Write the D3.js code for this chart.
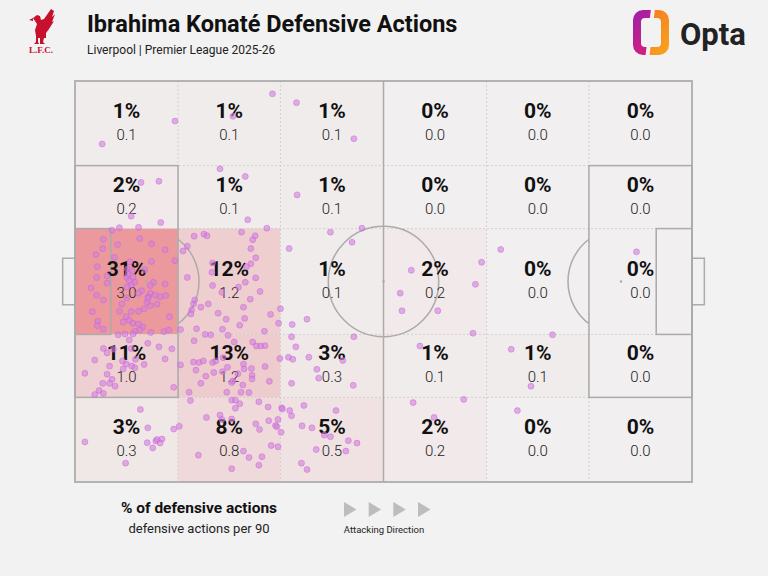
<!DOCTYPE html>
<html lang="en">
  <head>
    <meta charset="UTF-8" />
    <title>Ibrahima Konaté Defensive Actions</title>
    <script src="https://d3js.org/d3.v7.min.js"></script>
    <style>
      body {
        margin: 0;
        background: #f2f2f2;
      }
      svg {
        display: block;
        font-family: Roboto, "Noto Sans", sans-serif;
      }
    </style>
  </head>
  <body>
    <script>
      // zone edges in Opta pitch units (0-100 both ways, y measured from top)
      const xEdges = [0, 16.7, 33.3, 50, 66.7, 83.3, 100];
      const yEdges = [0, 21.1, 36.8, 63.2, 78.9, 100];

      // share of defensive actions per zone (%)
      const pctGrid = [
        [1, 1, 1, 0, 0, 0],
        [2, 1, 1, 0, 0, 0],
        [31, 12, 1, 2, 0, 0],
        [11, 13, 3, 1, 1, 0],
        [3, 8, 5, 2, 0, 0],
      ];

      // defensive actions per 90 per zone
      const p90Grid = [
        [0.1, 0.1, 0.1, 0.0, 0.0, 0.0],
        [0.2, 0.1, 0.1, 0.0, 0.0, 0.0],
        [3.0, 1.2, 0.1, 0.2, 0.0, 0.0],
        [1.0, 1.2, 0.3, 0.1, 0.1, 0.0],
        [0.3, 0.8, 0.5, 0.2, 0.0, 0.0],
      ];

      // individual actions [x, y]
      const actions = [
        [4.4, 15.7], [16.2, 10.0], [32.0, 3.2], [25.6, 8.8], [35.9, 5.4], [45.2, 14.4],
        [23.5, 21.9], [27.6, 23.8], [36.0, 28.4], [10.7, 25.3], [13.6, 25.0], [9.1, 33.7],
        [13.9, 35.3], [28.0, 34.6], [7.2, 36.6], [10.3, 36.5], [6.0, 37.2],
        [31.1, 36.7], [27.0, 37.7], [20.9, 38.2], [19.3, 38.7], [21.4, 38.6], [29.2, 38.6],
        [28.8, 39.6], [18.2, 41.2], [17.5, 42.4], [28.5, 41.8], [29.3, 44.1], [28.5, 45.6],
        [27.8, 46.3], [22.3, 45.4], [22.2, 47.7], [18.2, 49.0], [29.3, 49.1], [27.6, 50.2],
        [22.3, 51.0], [26.5, 51.4], [23.8, 52.7], [30.0, 52.5], [19.2, 55.6], [19.4, 54.6],
        [21.6, 55.6], [20.4, 56.4], [28.4, 54.4], [18.9, 57.1], [18.8, 58.1], [23.2, 57.9],
        [27.3, 56.4], [33.3, 56.8], [31.7, 58.2], [27.5, 59.2], [33.0, 60.4], [24.5, 59.4],
        [26.7, 60.9], [17.1, 62.0], [19.7, 61.8], [23.9, 61.9], [30.7, 62.4], [22.0, 63.3],
        [24.8, 63.4],
        [4.6, 39.5], [4.5, 41.8], [6.9, 40.8], [10.5, 39.3], [12.4, 40.6], [14.6, 42.1],
        [3.4, 43.3], [6.4, 44.0], [16.2, 44.8], [12.4, 45.0], [3.6, 46.3], [8.5, 46.9],
        [9.2, 47.3], [5.2, 48.6], [3.5, 49.0], [8.4, 49.0], [8.6, 48.1], [9.4, 49.0],
        [8.8, 49.8], [9.7, 50.2], [9.1, 50.9], [12.7, 50.2], [12.2, 51.0], [5.2, 50.4],
        [14.6, 50.6], [2.6, 51.6], [10.8, 52.3], [10.3, 52.9], [12.2, 52.9], [11.9, 53.8],
        [13.0, 53.4], [14.7, 53.5], [3.5, 53.4], [4.6, 54.6], [8.4, 54.1], [11.7, 55.2],
        [13.3, 55.6], [7.6, 55.6], [7.2, 57.4], [9.1, 57.5], [10.3, 57.4], [11.2, 56.8],
        [12.2, 56.0], [2.8, 57.5], [8.3, 58.8], [15.3, 58.8], [3.7, 59.9], [3.6, 61.0],
        [8.8, 59.7], [9.4, 60.4], [7.8, 60.1], [10.3, 60.6], [11.0, 61.3], [10.5, 62.1],
        [9.7, 62.4], [4.6, 61.9], [8.1, 63.1], [12.3, 62.7], [14.4, 62.5], [15.2, 62.1],
        [13.8, 53.8], [11.8, 54.2], [8.9, 45.1], [8.4, 51.4], [11.3, 47.1],
        [7.0, 63.3], [9.4, 63.1], [8.8, 64.6], [11.8, 65.4], [13.6, 66.3], [15.7, 66.8],
        [4.6, 66.7], [5.2, 67.8], [6.2, 66.9], [9.1, 66.7], [3.2, 69.6], [7.7, 69.8],
        [8.3, 70.6], [9.8, 69.4], [11.2, 70.7], [9.2, 71.1], [14.6, 69.3], [5.6, 71.1],
        [7.8, 71.8], [9.7, 71.5], [1.6, 72.9], [5.2, 73.1], [6.0, 74.4], [4.5, 75.4],
        [5.6, 75.4], [6.5, 76.1], [3.9, 77.2], [3.2, 78.2], [4.6, 77.9], [16.0, 76.4],
        [19.3, 64.8], [21.1, 63.2], [25.8, 65.1], [28.8, 65.1], [29.4, 66.1], [30.1, 66.1],
        [30.8, 66.0], [19.2, 70.1], [20.1, 70.2], [20.8, 69.8], [22.3, 70.2], [22.8, 69.8],
        [24.0, 69.0], [17.1, 70.8], [19.6, 72.1], [24.7, 71.4], [27.3, 70.6], [27.4, 71.8],
        [28.6, 71.7], [30.8, 71.2], [21.2, 73.6], [22.5, 72.7], [23.9, 72.5], [26.4, 73.0],
        [28.7, 73.4], [28.7, 74.3], [20.4, 75.4], [25.4, 75.2], [25.6, 74.8], [27.2, 75.8],
        [31.5, 74.9], [18.5, 77.6], [24.6, 77.6], [26.9, 77.6], [28.2, 77.7],
        [35.1, 63.8], [35.8, 66.3], [33.2, 69.2], [34.6, 68.9], [35.3, 69.4], [37.9, 68.9],
        [43.4, 69.7], [39.2, 71.9], [39.5, 74.1], [35.1, 75.4], [45.1, 75.9], [45.2, 63.8],
        [41.4, 37.7], [46.5, 36.7], [44.9, 40.2], [34.7, 41.8], [35.2, 60.7], [37.6, 59.4],
        [52.7, 52.9], [53.0, 57.3], [54.5, 47.2], [58.8, 57.3], [65.9, 45.2], [64.9, 50.7],
        [64.5, 62.9], [69.0, 42.0], [91.0, 42.6], [77.4, 63.3], [55.9, 66.1], [70.7, 66.9],
        [73.9, 76.1], [54.8, 80.2], [63.0, 79.4], [58.2, 83.9], [71.7, 82.2],
        [10.6, 81.9], [11.8, 86.5], [16.0, 86.8], [16.9, 86.1], [1.6, 90.0], [13.1, 89.8],
        [13.3, 89.4], [14.1, 89.3], [11.7, 90.2], [13.8, 90.3], [12.6, 91.5], [8.2, 95.3],
        [18.7, 79.7], [25.4, 79.6], [26.0, 79.6], [26.7, 80.5], [26.0, 81.6], [29.8, 80.0],
        [31.3, 81.3], [21.3, 83.9], [23.5, 83.3], [23.8, 84.4], [25.4, 84.3], [29.3, 85.5],
        [29.9, 86.9], [31.4, 84.7], [32.9, 84.4], [32.5, 85.9], [32.7, 86.2], [20.0, 93.3],
        [27.3, 92.3], [28.2, 93.9], [30.3, 93.7], [29.8, 95.8], [25.4, 96.7], [31.8, 90.9],
        [32.9, 91.2],
        [33.5, 81.5], [33.6, 81.8], [34.8, 82.2], [37.1, 80.9], [35.1, 83.5], [42.3, 82.2],
        [36.8, 86.0], [38.4, 86.5], [33.4, 87.6], [40.4, 88.3], [41.4, 88.7], [44.3, 89.7],
        [45.7, 90.3], [39.1, 91.9], [43.9, 92.3], [36.7, 95.3], [37.6, 96.9],
      ];

      const legendTitle = "% of defensive actions";
      const legendSub = "defensive actions per 90";
      const directionLabel = "Attacking Direction";
      const arrows = [0, 1, 2, 3];

      const width = 768;
      const height = 576;

      const svg = d3.select("body").append("svg").attr("width", width).attr("height", height);
      svg.append("rect").attr("width", width).attr("height", height).attr("fill", "#f2f2f2");

      const x = d3.scaleLinear().domain([0, 100]).range([75, 692]);
      const y = d3.scaleLinear().domain([0, 100]).range([81, 482]);

      const color = d3.scaleLinear().domain([0, d3.max(pctGrid.flat())]).range(["#f1efef", "#eb999c"]);

      // zone cells
      const cells = [];
      pctGrid.forEach((row, r) => {
        row.forEach((pct, c) => {
          cells.push({ r, c, pct, p90: p90Grid[r][c] });
        });
      });

      const pitch = svg.append("g");

      pitch
        .selectAll("rect.cell")
        .data(cells)
        .join("rect")
        .attr("class", "cell")
        .attr("x", (d) => x(xEdges[d.c]))
        .attr("y", (d) => y(yEdges[d.r]))
        .attr("width", (d) => x(xEdges[d.c + 1]) - x(xEdges[d.c]))
        .attr("height", (d) => y(yEdges[d.r + 1]) - y(yEdges[d.r]))
        .attr("fill", (d) => color(d.pct));

      // dotted zone grid
      const grid = pitch.append("g").attr("stroke", "#c9c9c9").attr("stroke-width", 0.8).attr("stroke-dasharray", "2,2");
      xEdges.slice(1, -1).forEach((e) => {
        grid.append("line").attr("x1", x(e)).attr("x2", x(e)).attr("y1", y(0)).attr("y2", y(100));
      });
      yEdges.slice(1, -1).forEach((e) => {
        grid.append("line").attr("x1", x(0)).attr("x2", x(100)).attr("y1", y(e)).attr("y2", y(e));
      });

      // pitch markings
      const lines = pitch.append("g").attr("fill", "none").attr("stroke", "#ababab").attr("stroke-width", 1.5);
      const box = (x0, x1, y0, y1) =>
        lines
          .append("rect")
          .attr("x", x(Math.min(x0, x1)))
          .attr("y", y(y0))
          .attr("width", Math.abs(x(x1) - x(x0)))
          .attr("height", y(y1) - y(y0));

      box(0, 100, 0, 100).attr("stroke", "#b3b3b3").attr("stroke-width", 2);
      lines.append("line").attr("x1", x(50)).attr("x2", x(50)).attr("y1", y(0)).attr("y2", y(100));
      const circleR = x(58.95) - x(50);
      lines.append("circle").attr("cx", x(50)).attr("cy", y(50)).attr("r", circleR);
      pitch.append("circle").attr("cx", x(50)).attr("cy", y(50)).attr("r", 1.2).attr("fill", "#ababab");

      [
        { goal: 0, dir: 1 },
        { goal: 100, dir: -1 },
      ].forEach(({ goal, dir }) => {
        box(goal, goal + dir * 16.7, 21.1, 78.9);
        box(goal, goal + dir * 5.8, 36.8, 63.2);
        box(goal - dir * 2, goal, 44.2, 55.8);
        const spotX = x(goal + dir * 11.5);
        pitch.append("circle").attr("cx", spotX).attr("cy", y(50)).attr("r", 1.2).attr("fill", "#ababab");
        const arcR = x(8.6) - x(0);
        const dx = Math.abs(x(goal + dir * 16.7) - spotX);
        const h = Math.sqrt(arcR * arcR - dx * dx);
        const edgeX = x(goal + dir * 16.7);
        lines
          .append("path")
          .attr("d", `M${edgeX},${y(50) - h} A${arcR},${arcR} 0 0 ${dir > 0 ? 1 : 0} ${edgeX},${y(50) + h}`);
      });

      // zone labels
      const labels = pitch
        .selectAll("g.lab")
        .data(cells)
        .join("g")
        .attr("class", "lab")
        .attr("transform", (d) => `translate(${x((xEdges[d.c] + xEdges[d.c + 1]) / 2)},${y((yEdges[d.r] + yEdges[d.r + 1]) / 2)})`)
        .attr("text-anchor", "middle");
      labels
        .append("text")
        .attr("y", -5.5)
        .attr("font-size", 21)
        .attr("font-weight", 700)
        .attr("fill", "#111")
        .text((d) => d.pct + "%");
      labels
        .append("text")
        .attr("y", 16.5)
        .attr("font-size", 15)
        .attr("font-weight", 300)
        .attr("fill", "#222")
        .text((d) => d.p90.toFixed(1));

      // action dots
      pitch
        .selectAll("circle.dot")
        .data(actions)
        .join("circle")
        .attr("class", "dot")
        .attr("cx", (d) => x(d[0]))
        .attr("cy", (d) => y(d[1]))
        .attr("r", 3)
        .attr("fill", "#d27ee0")
        .attr("fill-opacity", 0.6)
        .attr("stroke", "#c060d4")
        .attr("stroke-opacity", 0.55)
        .attr("stroke-width", 0.8);

      // header
      svg
        .append("text")
        .attr("x", 87)
        .attr("y", 32)
        .attr("font-size", 23.5)
        .attr("font-weight", 700)
        .attr("fill", "#111")
        .text("Ibrahima Konaté Defensive Actions");
      svg
        .append("text")
        .attr("x", 87)
        .attr("y", 54)
        .attr("font-size", 12)
        .attr("fill", "#222")
        .text("Liverpool | Premier League 2025-26");

      // LFC crest (simplified liver bird)
      const crest = svg.append("g").attr("fill", "#c8102e");
      crest.append("path").attr("d", "M33,18 L37,15 L40,16 L41,20 L44,19 L51,9 L54,11 L52,17 L55,14 L52,22 L54,21 L49,29 L46,33 L46,38 L44,38 L43,42 L45,44 L40,44 L40,38 L38,38 L38,42 L39,44 L34,44 L36,42 L36,36 L35,30 L37,24 L35,21 Z");
      crest.append("path").attr("d", "M33,18 L29,20 L33,21 Z");
      crest
        .append("text")
        .attr("x", 41)
        .attr("y", 53)
        .attr("text-anchor", "middle")
        .attr("font-family", "'Liberation Serif', serif")
        .attr("font-size", 9)
        .attr("font-weight", 700)
        .text("L.F.C.");

      // Opta logo
      const defs = svg.append("defs");
      const g1 = defs.append("linearGradient").attr("id", "optaL").attr("x1", "0").attr("y1", "0").attr("x2", "1").attr("y2", "1");
      g1.append("stop").attr("offset", "0").attr("stop-color", "#9b1fb0");
      g1.append("stop").attr("offset", "1").attr("stop-color", "#ee2260");
      const g2 = defs.append("linearGradient").attr("id", "optaR").attr("x1", "0").attr("y1", "0").attr("x2", "1").attr("y2", "1");
      g2.append("stop").attr("offset", "0").attr("stop-color", "#f36f21");
      g2.append("stop").attr("offset", "1").attr("stop-color", "#f9a51e");
      defs.append("clipPath").attr("id", "clipL").append("path").attr("d", "M620,0 L652,0 L645,60 L620,60 Z");
      defs.append("clipPath").attr("id", "clipR").append("path").attr("d", "M656,0 L690,0 L690,60 L649,60 Z");
      const ring = "M643,10 H659 A10,10 0 0 1 669,20 V45 A10,10 0 0 1 659,55 H643 A10,10 0 0 1 633,45 V20 A10,10 0 0 1 643,10 Z M645,18 A4,4 0 0 0 641,22 V43 A4,4 0 0 0 645,47 H657 A4,4 0 0 0 661,43 V22 A4,4 0 0 0 657,18 Z";
      svg.append("path").attr("d", ring).attr("fill-rule", "evenodd").attr("fill", "url(#optaL)").attr("clip-path", "url(#clipL)");
      svg.append("path").attr("d", ring).attr("fill-rule", "evenodd").attr("fill", "url(#optaR)").attr("clip-path", "url(#clipR)");
      svg
        .append("text")
        .attr("x", 680)
        .attr("y", 45)
        .attr("font-size", 31)
        .attr("font-weight", 700)
        .attr("fill", "#222")
        .text("Opta");

      // legend
      svg
        .append("text")
        .attr("x", 199)
        .attr("y", 513)
        .attr("text-anchor", "middle")
        .attr("font-size", 15.5)
        .attr("font-weight", 700)
        .attr("fill", "#111")
        .text(legendTitle);
      svg
        .append("text")
        .attr("x", 199)
        .attr("y", 533)
        .attr("text-anchor", "middle")
        .attr("font-size", 13)
        .attr("fill", "#222")
        .text(legendSub);

      const arrowX = d3.scaleLinear().domain([0, 3]).range([344, 418]);
      svg
        .selectAll("path.arrow")
        .data(arrows)
        .join("path")
        .attr("class", "arrow")
        .attr("d", (d) => `M${arrowX(d)},502 L${arrowX(d) + 12.5},509.5 L${arrowX(d)},517 Z`)
        .attr("fill", "#bdbdbd");
      svg
        .append("text")
        .attr("x", 384)
        .attr("y", 533)
        .attr("text-anchor", "middle")
        .attr("font-size", 9.5)
        .attr("font-weight", 400)
        .attr("fill", "#222")
        .text(directionLabel);
    </script>
  </body>
</html>
